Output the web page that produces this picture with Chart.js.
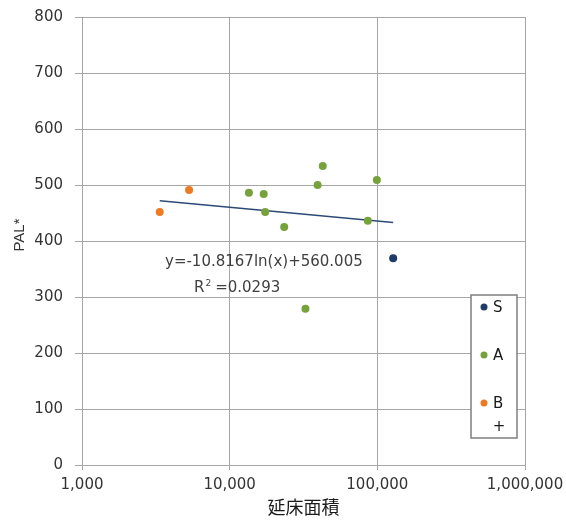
<!DOCTYPE html>
<html>
<head>
<meta charset="utf-8">
<script src="https://cdn.jsdelivr.net/npm/chart.js@4.4.1/dist/chart.umd.min.js"></script>
<style>
  html, body { margin: 0; padding: 0; background: #fff; }
  #wrap { width: 566px; height: 522px; }
</style>
</head>
<body>
<div id="wrap"><canvas id="palChart" width="566" height="522"></canvas></div>
<script>
// values
const xTicks = [1000, 10000, 100000, 1000000];

const sArea = [128000];
const sPal = [369];

const aArea = [13500, 17000, 17400, 23400, 39400, 42700, 99300, 86200, 32600];
const aPal = [486, 484, 452, 425, 500, 534, 509, 436, 279];

const bArea = [3360, 5310];
const bPal = [452, 491];

// log trendline end points (straight on a log x axis)
const trendArea = [3360, 128000];
const trendPal = [472, 433];

const eqText = 'y=-10.8167ln(x)+560.005';
const r2Value = '0.0293';
const legendLabels = ['S', 'A', 'B'];

const colS = '#1f3b68';
const colA = '#77a23b';
const colB = '#ee7a23';
const gridCol = '#a6a6a6';
const textCol = '#333333';

function toPoints(xs, ys) {
    return xs.map((x, i) => ({ x: x, y: ys[i] }));
}

// equation, R², y title and the boxed legend
const annotations = {
    id: 'annotations',
    afterDraw(chart) {
        const ctx = chart.ctx;
        ctx.save();
        ctx.fillStyle = '#404040';
        ctx.textBaseline = 'middle';
        ctx.textAlign = 'left';
        ctx.font = '15px "DejaVu Sans"';
        ctx.fillText(eqText, 165, 262);
        ctx.fillText('R', 194, 288);
        const rw = ctx.measureText('R').width;
        ctx.font = '9px "DejaVu Sans"';
        ctx.fillText('2', 194 + rw + 1, 284);
        ctx.font = '15px "DejaVu Sans"';
        ctx.fillText(' =' + r2Value, 194 + rw + 6, 288);

        // y title
        ctx.fillStyle = textCol;
        ctx.translate(20, 235);
        ctx.rotate(-Math.PI / 2);
        ctx.textAlign = 'center';
        ctx.font = '15px "Liberation Sans"';
        ctx.fillText('PAL*', 0, 0);
        ctx.setTransform(1, 0, 0, 1, 0, 0);

        // legend box
        ctx.fillStyle = '#ffffff';
        ctx.fillRect(471, 295, 46, 143);
        ctx.strokeStyle = '#7f7f7f';
        ctx.lineWidth = 1.5;
        ctx.strokeRect(471, 295, 46, 143);
        const rows = [307, 355, 403];
        const cols = [colS, colA, colB];
        ctx.font = '15px "DejaVu Sans"';
        ctx.textAlign = 'left';
        rows.forEach((ry, i) => {
            ctx.fillStyle = cols[i];
            ctx.beginPath();
            ctx.arc(484, ry, 3.5, 0, Math.PI * 2);
            ctx.fill();
            ctx.fillStyle = '#1a1a1a';
            ctx.fillText(legendLabels[i], 493, ry + 1);
        });
        ctx.textAlign = 'center';
        ctx.fillText('+', 499, 427);
        ctx.restore();
    }
};

const ctx = document.getElementById('palChart').getContext('2d');
new Chart(ctx, {
    type: 'scatter',
    data: {
        datasets: [
            {
                label: 'S',
                data: toPoints(sArea, sPal),
                backgroundColor: colS,
                borderColor: colS,
                pointRadius: 4,
                borderWidth: 0
            },
            {
                label: 'A',
                data: toPoints(aArea, aPal),
                backgroundColor: colA,
                borderColor: colA,
                pointRadius: 4,
                borderWidth: 0
            },
            {
                label: 'B',
                data: toPoints(bArea, bPal),
                backgroundColor: colB,
                borderColor: colB,
                pointRadius: 4,
                borderWidth: 0
            },
            {
                label: 'trend',
                type: 'line',
                data: toPoints(trendArea, trendPal),
                borderColor: '#2c4a76',
                borderWidth: 1.5,
                pointRadius: 0,
                fill: false
            }
        ]
    },
    options: {
        responsive: false,
        animation: false,
        layout: { padding: { left: 0, right: 41, top: 17, bottom: 0 } },
        plugins: {
            legend: { display: false },
            tooltip: { enabled: false }
        },
        scales: {
            x: {
                type: 'logarithmic',
                min: 1000,
                max: 1000000,
                afterBuildTicks: (scale) => {
                    scale.ticks = xTicks.map(v => ({ value: v }));
                },
                afterFit: (scale) => {
                    scale.height = 57;
                    scale.paddingLeft = 0;
                    scale.paddingRight = 0;
                },
                grid: { color: gridCol, lineWidth: 1, tickLength: 5 },
                border: { color: gridCol, width: 1 },
                ticks: {
                    color: textCol,
                    font: { family: 'DejaVu Sans', size: 15 },
                    padding: 6,
                    maxRotation: 0,
                    autoSkip: false,
                    callback: (value) => Number(value).toLocaleString('en-US')
                },
                title: {
                    display: true,
                    text: '延床面積',
                    color: '#1a1a1a',
                    font: { family: 'Noto Sans CJK JP', size: 18 },
                    padding: { top: 0, bottom: 4 }
                }
            },
            y: {
                min: 0,
                max: 800,
                afterFit: (scale) => {
                    scale.width = 82;
                    scale.paddingTop = 9;
                    scale.paddingBottom = 9;
                },
                grid: { color: gridCol, lineWidth: 1, tickLength: 7 },
                border: { color: gridCol, width: 1 },
                ticks: {
                    stepSize: 100,
                    color: textCol,
                    font: { family: 'DejaVu Sans', size: 15 },
                    padding: 12
                }
            }
        }
    },
    plugins: [annotations]
});
</script>
</body>
</html>
